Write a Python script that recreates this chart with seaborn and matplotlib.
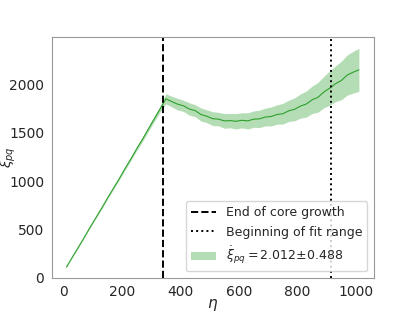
import numpy as np
import pandas as pd
import seaborn as sns
import matplotlib.pyplot as plt

# conformal time and mean correlation length with its spread
eta = [10, 30, 50, 70, 90, 110, 130, 150, 170, 190, 210, 230, 250, 270, 290, 310, 330,
       350, 370, 390, 410, 430, 450, 470, 490, 510, 530, 550, 570, 590, 610, 630, 650,
       670, 690, 710, 730, 750, 770, 790, 810, 830, 850, 870, 890, 910, 930, 950, 970,
       990, 1010]
xi_mean = [110, 212, 312, 413, 518, 618, 718, 822, 922, 1022, 1128, 1228, 1333, 1432, 1538,
           1642, 1745, 1850, 1822, 1795, 1778, 1745, 1728, 1688, 1670, 1645, 1640, 1622, 1625,
           1618, 1628, 1622, 1640, 1643, 1662, 1668, 1688, 1696, 1726, 1742, 1775, 1796, 1840,
           1866, 1920, 1960, 2006, 2040, 2096, 2125, 2150]
xi_err = [4, 5, 6, 7, 8, 9, 10, 11, 13, 14, 16, 18, 20, 22, 25, 28, 32, 52, 55, 60, 58, 64,
          62, 68, 66, 72, 70, 76, 74, 80, 78, 84, 85, 90, 92, 98, 100, 107, 110, 119, 125,
          135, 142, 154, 163, 177, 185, 199, 208, 216, 222]

eta_core = 340
eta_fit = 915
slope_label = r'$\dot{\xi}_{pq} = 2.012{\pm}0.488$'

df = pd.DataFrame({'eta': eta, 'xi': xi_mean, 'err': xi_err})

sns.set_style('white', {'axes.edgecolor': '0.6'})
plt.rcParams['font.family'] = ['DejaVu Sans']

fig, ax = plt.subplots(figsize=(4.15, 3.12), dpi=100)
fig.subplots_adjust(left=0.125, right=0.9, top=0.88, bottom=0.11)

green = '#2ca02c'
sns.lineplot(data=df, x='eta', y='xi', color=green, linewidth=0.8, ax=ax, legend=False)
ax.fill_between(df['eta'], df['xi'] - df['err'], df['xi'] + df['err'],
                color=green, alpha=0.35, linewidth=0, label=slope_label)

ax.axvline(eta_core, color='black', linestyle='--', linewidth=1.4, label='End of core growth')
ax.axvline(eta_fit, color='black', linestyle=':', linewidth=1.4, label='Beginning of fit range')

ax.set_ylim(bottom=0)
ax.set_xlabel(r'$\eta$', fontsize=11, labelpad=-2)
ax.set_ylabel(r'$\xi_{pq}$', fontsize=10)
ax.yaxis.set_label_coords(-0.104, 0.5)
ax.tick_params(labelsize=10, pad=2)

h, l = ax.get_legend_handles_labels()
order = [1, 2, 0]
ax.legend([h[i] for i in order], [l[i] for i in order], loc='lower right', fontsize=9,
          handlelength=2.0)

plt.savefig('out.png', dpi=100)
